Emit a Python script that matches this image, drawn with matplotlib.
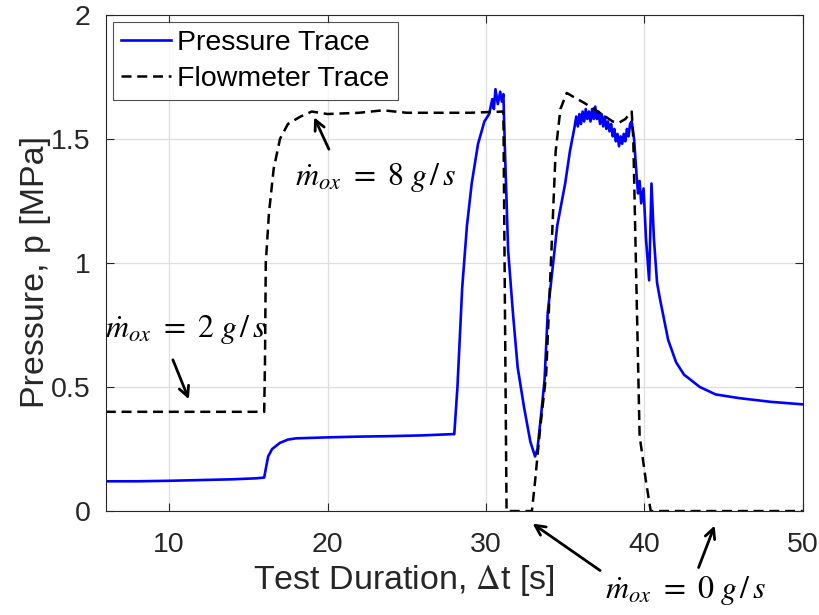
import numpy as np
import matplotlib
matplotlib.use("Agg")
import matplotlib.pyplot as plt

# pressure trace
p_t = [6.0, 8.0, 10.0, 12.0, 14.0, 15.5, 16.0, 16.1, 16.25, 16.5, 17.0, 17.5, 18.0, 20.0, 22.0,
       24.0, 26.0, 27.9, 28.0, 28.2, 28.5, 28.8, 29.1, 29.5, 29.9, 30.2, 30.4, 30.5, 30.6,
       30.75, 30.9, 31.0, 31.1, 31.2, 31.4, 31.7, 32.0, 32.4, 32.8, 33.1, 33.25, 33.5, 33.7,
       33.9, 34.5, 35.0, 35.3, 35.6, 35.7, 35.8, 35.9, 36.0, 36.1, 36.2, 36.3, 36.4, 36.5,
       36.6, 36.7, 36.8, 36.9, 37.0, 37.1, 37.2, 37.3, 37.4, 37.5, 37.6, 37.7, 37.8, 37.9,
       38.0, 38.1, 38.2, 38.3, 38.4, 38.5, 38.6, 38.7, 38.8, 38.9, 39.0, 39.1, 39.2,
       39.35, 39.5, 39.6, 39.7, 39.8, 39.95, 40.1, 40.3, 40.45, 40.6,
       40.8, 41.0, 41.5, 42.0, 42.5, 43.5, 44.5, 46.0, 48.0, 50.0]
p_val = [0.12, 0.12, 0.122, 0.125, 0.128, 0.132, 0.135, 0.17, 0.22, 0.25, 0.275, 0.288, 0.293,
         0.297, 0.300, 0.302, 0.305, 0.31, 0.31, 0.5, 0.9, 1.15, 1.32, 1.48, 1.57, 1.6, 1.66,
         1.62, 1.70, 1.64, 1.69, 1.65, 1.68, 1.45, 1.05, 0.80, 0.58, 0.42, 0.28, 0.22, 0.25,
         0.40, 0.53, 0.80, 1.15, 1.32, 1.45, 1.55, 1.59, 1.55, 1.60, 1.56, 1.61, 1.57, 1.62,
         1.58, 1.61, 1.57, 1.62, 1.58, 1.63, 1.58, 1.61, 1.56, 1.60, 1.55, 1.59, 1.54, 1.57,
         1.53, 1.56, 1.51, 1.54, 1.49, 1.52, 1.47, 1.51, 1.48, 1.52, 1.49, 1.54, 1.51, 1.56,
         1.57, 1.50, 1.36, 1.28, 1.33, 1.24, 1.30, 1.10, 0.93, 1.32, 1.10, 0.92, 0.85, 0.69,
         0.60, 0.55, 0.50, 0.47, 0.455, 0.44, 0.43]

# flowmeter trace
f_t = [6.0, 16.0, 16.05, 16.1, 16.3, 16.6, 17.0, 17.5, 18.3, 19.0, 20.0, 22.0, 23.5, 25.0,
       27.0, 29.0, 31.1, 31.2, 31.3, 32.9, 33.1, 33.4, 33.8, 34.1, 34.4, 34.7, 35.1, 35.5,
       36.2, 37.3, 38.0, 38.4, 38.8, 39.2, 39.3, 39.5, 39.7, 39.75, 40.1, 40.4, 50.0]
f_val = [0.40, 0.40, 0.60, 1.00, 1.20, 1.38, 1.50, 1.56, 1.59, 1.61, 1.60, 1.605, 1.615, 1.605,
         1.605, 1.605, 1.61, 0.8, 0.0, 0.0, 0.12, 0.32, 0.55, 1.0, 1.45, 1.62, 1.685, 1.67,
         1.645, 1.60, 1.57, 1.565, 1.58, 1.61, 1.50, 0.9, 0.30, 0.28, 0.12, 0.0, 0.0]

x_ticks = [10, 20, 30, 40, 50]
y_ticks = [0, 0.5, 1, 1.5, 2]
y_tick_labels = ["0", "0.5", "1", "1.5", "2"]

plt.rcParams['font.family'] = ['Liberation Sans', 'DejaVu Sans']
plt.rcParams['mathtext.fontset'] = 'stix'
gray = '#262626'

fig = plt.figure(figsize=(8.2, 6.15), dpi=100)
ax = fig.add_axes([0.129, 0.169, 0.850, 0.807])

ax.plot(p_t, p_val, color='#0000ff', lw=1.9, label='Pressure Trace')
ax.plot(f_t, f_val, color='black', lw=1.8, ls=(0, (4, 2.3)), label='Flowmeter Trace')

ax.set_xlim(6, 50)
ax.set_ylim(0, 2)
ax.set_xticks(x_ticks)
ax.set_yticks(y_ticks)
ax.set_yticklabels(y_tick_labels)
ax.grid(True, color='#dedede', lw=0.9)
ax.tick_params(direction='in', top=True, right=True, labelsize=20.5, colors=gray,
               length=6)
ax.tick_params(axis='x', pad=15)
ax.tick_params(axis='y', pad=11)
for s in ax.spines.values():
    s.set_color(gray)
    s.set_linewidth(0.8)

ax.set_xlabel('Test Duration, $\\Delta$t [s]', fontsize=24.5, color=gray)
ax.xaxis.set_label_coords(0.428, -0.105)
ax.set_ylabel('Pressure, p [MPa]', fontsize=24.5, color=gray)
ax.yaxis.set_label_coords(-0.078, 0.482)

leg = ax.legend(loc='upper left', fontsize=20.5, frameon=True, fancybox=False,
                handlelength=1.75, handletextpad=0.2, borderpad=0.3, labelspacing=0.33,
                borderaxespad=0.25)
leg.get_frame().set_edgecolor(gray)
leg.get_frame().set_linewidth(0.8)

arr = dict(arrowstyle='->', color='black', lw=2, mutation_scale=18)
mfs = 23
lab8 = r'$\dot{m}_{ox}\ =\ 8\;g\,/\,s$'
lab2 = r'$\dot{m}_{ox}\ =\ 2\;g\,/\,s$'
lab0 = r'$\dot{m}_{ox}\ =\ 0\;g\,/\,s$'

ax.annotate('', xy=(19.08, 1.597), xytext=(20.16, 1.448), arrowprops=arr)
ax.text(17.95, 1.343, lab8, fontsize=mfs, va='center', ha='left')

ax.annotate('', xy=(11.31, 0.44), xytext=(10.17, 0.62), arrowprops=arr)
ax.text(5.94, 0.73, lab2, fontsize=mfs, va='center', ha='left', clip_on=False)

ax.annotate('', xy=(32.8, -0.044), xytext=(37.35, -0.246), arrowprops=arr,
            annotation_clip=False)
ax.annotate('', xy=(44.5, -0.048), xytext=(43.36, -0.238), arrowprops=arr,
            annotation_clip=False)
ax.text(37.54, -0.32, lab0, fontsize=mfs, va='center', ha='left', clip_on=False)

fig.savefig('out.png', dpi=100)
